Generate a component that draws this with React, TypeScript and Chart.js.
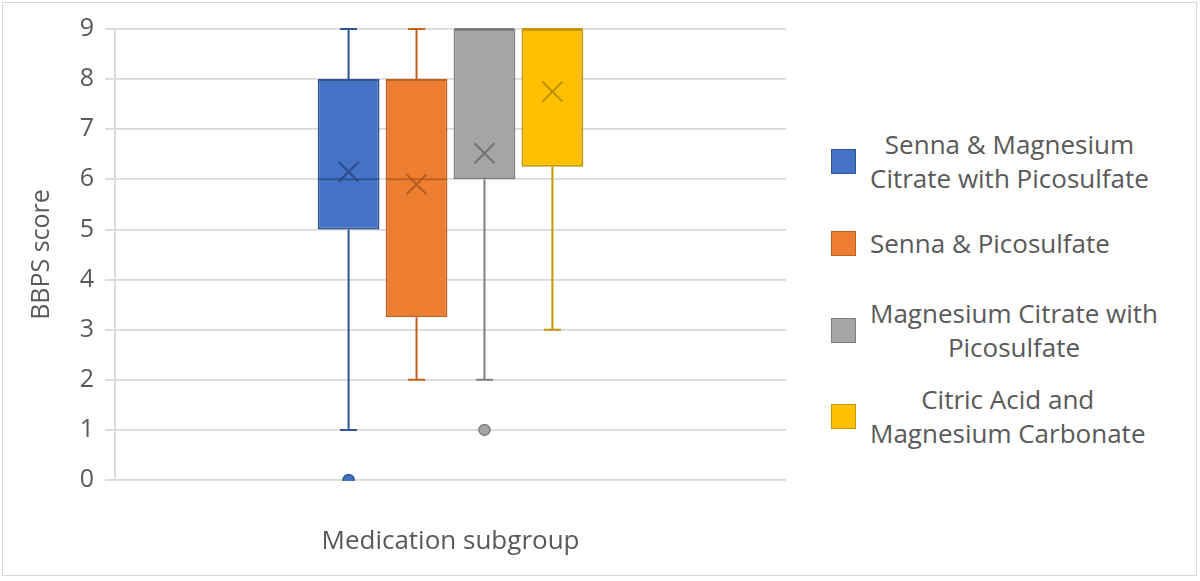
import { useEffect, useRef } from 'react';
import { Chart, registerables } from 'chart.js';

Chart.register(...registerables);

const groups = [
  'Senna & Magnesium Citrate with Picosulfate',
  'Senna & Picosulfate',
  'Magnesium Citrate with Picosulfate',
  'Citric Acid and Magnesium Carbonate',
];
const legendLines = [
  ['Senna & Magnesium', 'Citrate with Picosulfate'],
  ['Senna & Picosulfate'],
  ['Magnesium Citrate with', 'Picosulfate'],
  ['Citric Acid and', 'Magnesium Carbonate'],
];
const mins = [1, 2, 2, 3];
const q1s = [5, 3.25, 6, 6.25];
const medians = [6, 6, 9, 9];
const q3s = [8, 8, 9, 9];
const maxs = [9, 9, 9, 9];
const means = [6.15, 5.9, 6.52, 7.75];
const outliers = [[0], [], [1], []];

const fills = ['#4472C4', '#ED7D31', '#A5A5A5', '#FFC000'];
const borders = ['#2F5597', '#C0611F', '#7F7F7F', '#C89600'];
const meanColors = ['rgba(40,68,125,0.8)', 'rgba(165,80,28,0.8)', 'rgba(105,105,105,0.85)', 'rgba(180,135,0,0.9)'];

const FONT = '"Open Sans", "Noto Sans", sans-serif';
const TEXT = '#595959';
const GRID = '#D9D9D9';

const boxPlotPlugin = {
  id: 'boxWhiskers',
  afterDatasetsDraw(chart: any) {
    const { ctx, chartArea } = chart;
    const y = chart.scales.y;
    chart.data.datasets.forEach((_ds: any, i: number) => {
      const bar = chart.getDatasetMeta(i).data[0] as any;
      if (!bar) return;
      const cx = bar.x;
      const half = bar.width / 2;
      const cap = 8.5;
      ctx.save();
      ctx.beginPath();
      ctx.rect(chartArea.left, chartArea.top - 3, chartArea.right - chartArea.left, chartArea.bottom - chartArea.top + 4);
      ctx.clip();
      ctx.strokeStyle = borders[i];
      ctx.lineWidth = 2;
      ctx.beginPath();
      if (maxs[i] > q3s[i]) {
        ctx.moveTo(cx, y.getPixelForValue(q3s[i]));
        ctx.lineTo(cx, y.getPixelForValue(maxs[i]));
        ctx.moveTo(cx - cap, y.getPixelForValue(maxs[i]));
        ctx.lineTo(cx + cap, y.getPixelForValue(maxs[i]));
      }
      if (mins[i] < q1s[i]) {
        ctx.moveTo(cx, y.getPixelForValue(q1s[i]));
        ctx.lineTo(cx, y.getPixelForValue(mins[i]));
        ctx.moveTo(cx - cap, y.getPixelForValue(mins[i]));
        ctx.lineTo(cx + cap, y.getPixelForValue(mins[i]));
      }
      const my = y.getPixelForValue(medians[i]);
      ctx.moveTo(cx - half + 1, my);
      ctx.lineTo(cx + half - 1, my);
      ctx.stroke();

      // mean marker
      const mx = y.getPixelForValue(means[i]);
      const s = 10;
      ctx.strokeStyle = meanColors[i];
      ctx.lineWidth = 2;
      ctx.beginPath();
      ctx.moveTo(cx - s, mx - s);
      ctx.lineTo(cx + s, mx + s);
      ctx.moveTo(cx + s, mx - s);
      ctx.lineTo(cx - s, mx + s);
      ctx.stroke();

      // outliers
      outliers[i].forEach((v) => {
        ctx.beginPath();
        ctx.arc(cx, y.getPixelForValue(v), 5.5, 0, Math.PI * 2);
        ctx.fillStyle = fills[i];
        ctx.fill();
        ctx.lineWidth = 1.5;
        ctx.strokeStyle = borders[i];
        ctx.stroke();
      });
      ctx.restore();
    });
  },
};

function BoxChart() {
  const canvasRef = useRef<HTMLCanvasElement>(null);
  const chartRef = useRef<Chart | null>(null);

  useEffect(() => {
    if (!canvasRef.current) return;
    if (chartRef.current) chartRef.current.destroy();

    chartRef.current = new Chart(canvasRef.current, {
      type: 'bar',
      data: {
        labels: [''],
        datasets: groups.map((g, i) => ({
          label: g,
          data: [[q1s[i], q3s[i]]] as any,
          backgroundColor: fills[i],
          borderColor: borders[i],
          borderWidth: 2,
          borderSkipped: false,
          categoryPercentage: 0.405,
          barPercentage: 0.91,
          clip: false as any,
        })),
      },
      options: {
        animation: false,
        responsive: true,
        maintainAspectRatio: false,
        layout: { padding: { top: 29, right: 14, left: 0, bottom: 0 } },
        plugins: {
          legend: { display: false },
          tooltip: { enabled: false },
        },
        scales: {
          x: {
            grid: { display: false },
            border: { display: false },
            ticks: { display: false },
            title: {
              display: true,
              text: 'Medication subgroup',
              color: TEXT,
              font: { family: FONT, size: 26 },
              padding: { top: 0, bottom: 24 },
            },
            afterFit: (scale: any) => {
              scale.height = 101;
            },
          },
          y: {
            min: 0,
            max: 9,
            ticks: {
              stepSize: 1,
              color: TEXT,
              font: { family: FONT, size: 25 },
              padding: 11,
            },
            grid: { color: GRID, lineWidth: 1.8, tickLength: 10, drawTicks: true },
            border: { display: true, color: GRID, width: 1.8 },
            title: {
              display: true,
              text: 'BBPS score',
              color: TEXT,
              font: { family: FONT, size: 25 },
              padding: { top: 27, bottom: 0 },
            },
            afterFit: (scale: any) => {
              scale.width = 115;
            },
          },
        },
      },
      plugins: [boxPlotPlugin],
    });

    return () => {
      if (chartRef.current) {
        chartRef.current.destroy();
        chartRef.current = null;
      }
    };
  }, []);

  return <canvas ref={canvasRef} />;
}

const legendCenters = [161, 243, 330, 416];

export default function App() {
  return (
    <div style={{ position: 'fixed', left: 0, top: 0, width: 1200, height: 581, background: '#fff', fontFamily: FONT }}>
      <div
        style={{
          position: 'absolute', left: 2, top: 2, width: 1195, height: 574,
          border: `1px solid ${GRID}`, boxSizing: 'border-box',
        }}
      />
      <div style={{ position: 'absolute', left: 0, top: 0, width: 800, height: 581 }}>
        <BoxChart />
      </div>
      {groups.map((g, i) => (
        <div
          key={g}
          style={{
            position: 'absolute', left: 831, top: legendCenters[i], transform: 'translateY(-50%)',
            display: 'flex', alignItems: 'center',
          }}
        >
          <div
            style={{
              width: 25, height: 25, boxSizing: 'border-box', background: fills[i],
              border: `1.5px solid ${borders[i]}`, marginRight: 14, flexShrink: 0,
            }}
          />
          <div style={{ fontSize: 26, lineHeight: '34px', color: TEXT, textAlign: 'center', whiteSpace: 'nowrap' }}>
            {legendLines[i].map((l) => (
              <div key={l}>{l}</div>
            ))}
          </div>
        </div>
      ))}
    </div>
  );
}
